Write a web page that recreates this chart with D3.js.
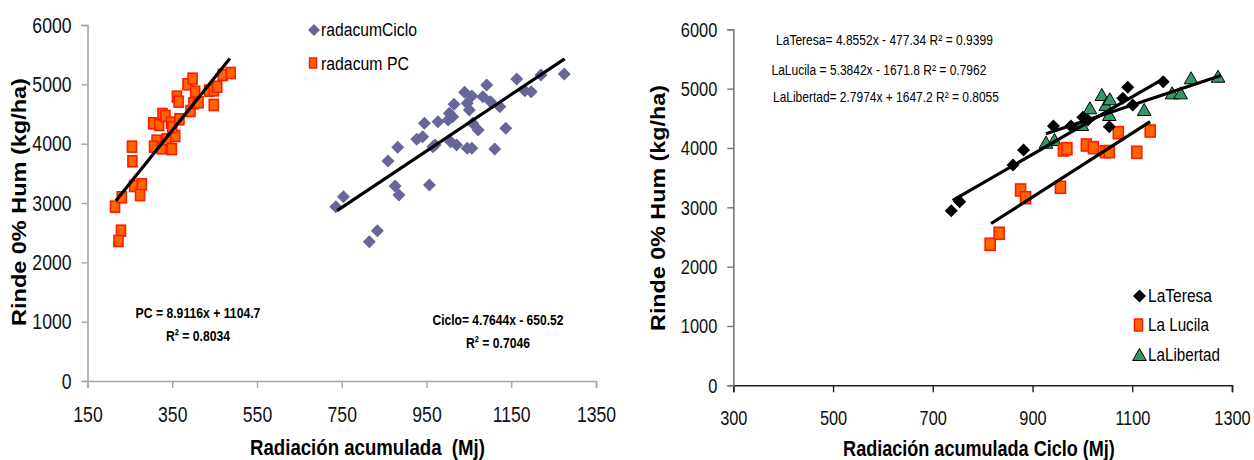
<!DOCTYPE html>
<html>
  <head>
    <meta charset="utf-8" />
    <title>Rinde vs radiación</title>
    <script src="https://d3js.org/d3.v7.min.js"></script>
    <style>
      body { margin: 0; background: #fff; }
      text { font-family: "Liberation Sans", Arial, sans-serif; }
      .nb { font-weight: bold; }
    </style>
  </head>
  <body>
    <svg id="chart" width="1254" height="460"></svg>
    <script>
      // left chart data: radiacion acumulada (PC and Ciclo) vs rinde
      var pcX = [215, 231, 229, 223, 260, 278, 274, 255, 256, 305, 319, 327, 334, 313, 307, 325, 337, 349,
                 357, 347, 350, 367, 361, 365, 393, 386, 398, 404, 400, 412, 437, 448, 456, 448, 469, 488];
      var pcY = [2938, 3096, 2533, 2360, 3287, 3315, 3135, 3950, 3703, 4343, 4315, 4500, 4467, 4050, 3950, 3922, 4073, 3910,
                 4129, 4354, 4276, 4411, 4792, 4708, 4551, 5001, 5096, 4876, 4681, 4697, 4893, 4899, 4960, 4652, 5158, 5191];

      var cicloX = [736, 754, 815, 834, 859, 882, 876, 885, 957, 927, 941, 945, 965, 970, 977, 1001, 1004, 1012, 1015, 1007,
                    1021, 1040, 1046, 1057, 1051, 1059, 1046, 1057, 1072, 1083, 1092, 1101, 1123, 1111, 1137, 1163, 1182, 1197, 1220, 1275];
      var cicloY = [2938, 3106, 2348, 2533, 3708, 3939, 3287, 3135, 3304, 4074, 4118, 4343, 3950, 3978, 4371, 4399, 4512, 4455, 4664, 4034,
                    3978, 4866, 4681, 4804, 4568, 4343, 3922, 3922, 4231, 4792, 4989, 4708, 4624, 3911, 4259, 5090, 4893, 4876, 5158, 5175];

      // right chart data: radiacion acumulada ciclo by site
      var teresaX = [737, 754, 861, 882, 942, 977, 1001, 1011, 1054, 1081, 1091, 1101, 1162];
      var teresaY = [2943, 3095, 3713, 3966, 4370, 4370, 4517, 4472, 4359, 4837, 5023, 4724, 5117];

      var lucilaX = [815, 833, 876, 886, 956, 962, 969, 1008, 1022, 1046, 1054, 1072, 1109, 1136];
      var lucilaY = [2377, 2562, 3292, 3162, 3337, 3966, 3988, 4050, 4005, 3938, 3938, 4258, 3927, 4286];

      var libertadX = [927, 944, 999, 1015, 1039, 1047, 1055, 1054, 1124, 1180, 1197, 1218, 1272];
      var libertadY = [4089, 4135, 4387, 4669, 4893, 4724, 4820, 4556, 4640, 4921, 4921, 5175, 5201];

      // trend lines: [slope, intercept, xStart, xEnd]
      var pcFit = [8.9116, 1104.7, 217, 486];
      var cicloFit = [4.7644, -650.52, 739, 1276];
      var teresaFit = [4.8552, -477.34, 740, 1164];
      var lucilaFit = [5.3842, -1671.8, 817, 1136];
      var libertadFit = [2.7974, 1647.2, 927, 1278];

      var leftXTicks = [150, 350, 550, 750, 950, 1150, 1350];
      var rightXTicks = [300, 500, 700, 900, 1100, 1300];
      var yTicks = [0, 1000, 2000, 3000, 4000, 5000, 6000];

      var svg = d3.select("#chart");

      function zip(xs, ys) {
        return xs.map(function (x, i) { return [x, ys[i]]; });
      }

      // squeeze text horizontally (the original font is a condensed one)
      // either to a target width w or by a factor k, keeping its anchor point
      function squeeze(sel, w, k) {
        sel.each(function () {
          var t = d3.select(this);
          var len = this.getComputedTextLength();
          var f = w ? w / len : (k || 0.8);
          var x0 = +t.attr("x") || 0;
          var base = t.attr("transform") || "";
          t.attr("transform", base + " translate(" + x0 + ",0) scale(" + f + ",1) translate(" + (-x0) + ",0)");
        });
      }

      function diamond(r) {
        return "M0," + (-r) + "L" + r + ",0L0," + r + "L" + (-r) + ",0Z";
      }
      function triangle(r) {
        return "M0," + (-r) + "L" + (r * 1.05) + "," + (r * 0.85) + "L" + (-r * 1.05) + "," + (r * 0.85) + "Z";
      }

      function drawAxes(g, x, y, xTicks, color, xColor, yFont, xFont, k) {
        var ax = g.append("g")
          .attr("transform", "translate(0," + y.range()[0] + ")")
          .call(d3.axisBottom(x).tickValues(xTicks).tickSize(7).tickPadding(18).tickFormat(d3.format("d")));
        ax.select(".domain").attr("stroke", xColor).attr("stroke-width", 1.6);
        ax.selectAll(".tick line").attr("stroke", xColor).attr("stroke-width", 1.4);
        ax.selectAll("text").attr("fill", "#111").style("font-size", xFont + "px");
        squeeze(ax.selectAll("text"), null, k);

        var ay = g.append("g")
          .attr("transform", "translate(" + x.range()[0] + ",0)")
          .call(d3.axisLeft(y).tickValues(yTicks).tickSize(6).tickPadding(10).tickFormat(d3.format("d")));
        ay.select(".domain").attr("stroke", color).attr("stroke-width", 1.6);
        ay.selectAll(".tick line").attr("stroke", color).attr("stroke-width", 1.4);
        ay.selectAll("text").attr("fill", "#111").style("font-size", yFont + "px");
        squeeze(ay.selectAll("text"), null, k);
      }

      function drawFit(g, x, y, fit) {
        var pts = [fit[2], fit[3]].map(function (v) { return [v, fit[0] * v + fit[1]]; });
        g.append("path")
          .attr("d", d3.line().x(function (d) { return x(d[0]); }).y(function (d) { return y(d[1]); })(pts))
          .attr("stroke", "#000")
          .attr("stroke-width", 3.2)
          .attr("fill", "none");
      }

      function drawSquares(g, x, y, data, w, h) {
        g.selectAll(null).data(data).enter().append("rect")
          .attr("x", function (d) { return x(d[0]) - w / 2; })
          .attr("y", function (d) { return y(d[1]) - h / 2; })
          .attr("width", w).attr("height", h)
          .attr("fill", "#ff6600")
          .attr("stroke", "#ff1a00")
          .attr("stroke-width", 1.6);
      }

      function drawPaths(g, x, y, data, path, fill, stroke) {
        g.selectAll(null).data(data).enter().append("path")
          .attr("transform", function (d) { return "translate(" + x(d[0]) + "," + y(d[1]) + ")"; })
          .attr("d", path)
          .attr("fill", fill)
          .attr("stroke", stroke || "none")
          .attr("stroke-width", 1);
      }

      function label(g, x, y, txt, size, w, opts) {
        opts = opts || {};
        var t = g.append("text")
          .attr("x", x).attr("y", y)
          .attr("text-anchor", opts.anchor || "start")
          .attr("class", opts.bold ? "nb" : null)
          .style("font-size", size + "px")
          .text(txt);
        if (opts.rotate) {
          t.attr("x", 0).attr("y", 0).attr("transform", "translate(" + x + "," + y + ") rotate(-90)");
        }
        squeeze(t, w);
        return t;
      }

      // ---------- left chart ----------
      var xL = d3.scaleLinear().domain([150, 1350]).range([87.5, 596]);
      var yL = d3.scaleLinear().domain([0, 6000]).range([381, 25]);
      var gL = svg.append("g");

      drawAxes(gL, xL, yL, leftXTicks, "#a6a6a6", "#a6a6a6", 22, 22, 0.8);

      drawPaths(gL, xL, yL, zip(cicloX, cicloY), diamond(6.5), "#666699");
      drawSquares(gL, xL, yL, zip(pcX, pcY), 9, 11);
      drawFit(gL, xL, yL, pcFit);
      drawFit(gL, xL, yL, cicloFit);

      label(gL, 25.5, 202, "Rinde 0% Hum (kg/ha)", 21, 248, { bold: true, anchor: "middle", rotate: true });
      label(gL, 367.5, 455, "Radiación acumulada\u00a0\u00a0(Mj)", 22, 235, { bold: true, anchor: "middle" });

      // legend
      gL.append("path").attr("transform", "translate(314,30)").attr("d", diamond(6)).attr("fill", "#666699");
      label(gL, 321, 36.5, "radacumCiclo", 19, 96);
      gL.append("rect").attr("x", 309.5).attr("y", 58).attr("width", 7).attr("height", 10)
        .attr("fill", "#ff6600").attr("stroke", "#ff1a00").attr("stroke-width", 1.5);
      label(gL, 321, 70, "radacum PC", 19, 88);

      // equations
      label(gL, 198, 318, "PC = 8.9116x + 1104.7", 15.5, 125, { bold: true, anchor: "middle" });
      label(gL, 198, 341, "R\u00b2 = 0.8034", 15.5, 64, { bold: true, anchor: "middle" });
      label(gL, 498, 325.5, "Ciclo= 4.7644x - 650.52", 15.5, 131, { bold: true, anchor: "middle" });
      label(gL, 498, 348.5, "R\u00b2 = 0.7046", 15.5, 64, { bold: true, anchor: "middle" });

      // ---------- right chart ----------
      var xR = d3.scaleLinear().domain([300, 1300]).range([733.3, 1232]);
      var yR = d3.scaleLinear().domain([0, 6000]).range([385.3, 29.3]);
      var gR = svg.append("g");

      drawAxes(gR, xR, yR, rightXTicks, "#777", "#222", 21, 21, 0.78);

      drawPaths(gR, xR, yR, zip(libertadX, libertadY), triangle(6.5), "#339966", "#000");
      drawSquares(gR, xR, yR, zip(lucilaX, lucilaY), 10, 12);
      drawPaths(gR, xR, yR, zip(teresaX, teresaY), diamond(6.5), "#000");
      drawFit(gR, xR, yR, teresaFit);
      drawFit(gR, xR, yR, lucilaFit);
      drawFit(gR, xR, yR, libertadFit);

      label(gR, 665, 208, "Rinde 0% Hum (kg/ha)", 21, 246, { bold: true, anchor: "middle", rotate: true });
      label(gR, 979, 456, "Radiación acumulada Ciclo (Mj)", 22, 272, { bold: true, anchor: "middle" });

      label(gR, 776, 45.5, "LaTeresa= 4.8552x - 477.34 R\u00b2 = 0.9399", 15, 217);
      label(gR, 771.5, 75, "LaLucila = 5.3842x - 1671.8 R\u00b2 = 0.7962", 15, 215);
      label(gR, 773, 102.5, "LaLibertad= 2.7974x + 1647.2 R\u00b2 = 0.8055", 15, 226);

      // legend
      gR.append("path").attr("transform", "translate(1139.5,296)").attr("d", diamond(6.5)).attr("fill", "#000");
      label(gR, 1148, 302.5, "LaTeresa", 18.5, 64);
      gR.append("rect").attr("x", 1134.5).attr("y", 319).attr("width", 8).attr("height", 12)
        .attr("fill", "#ff6600").attr("stroke", "#ff1a00").attr("stroke-width", 1.5);
      label(gR, 1148, 331.5, "La Lucila", 18.5, 61);
      gR.append("path").attr("transform", "translate(1139.5,355)").attr("d", triangle(6.5)).attr("fill", "#339966").attr("stroke", "#000");
      label(gR, 1148, 361, "LaLibertad", 18.5, 72);
    </script>
  </body>
</html>
